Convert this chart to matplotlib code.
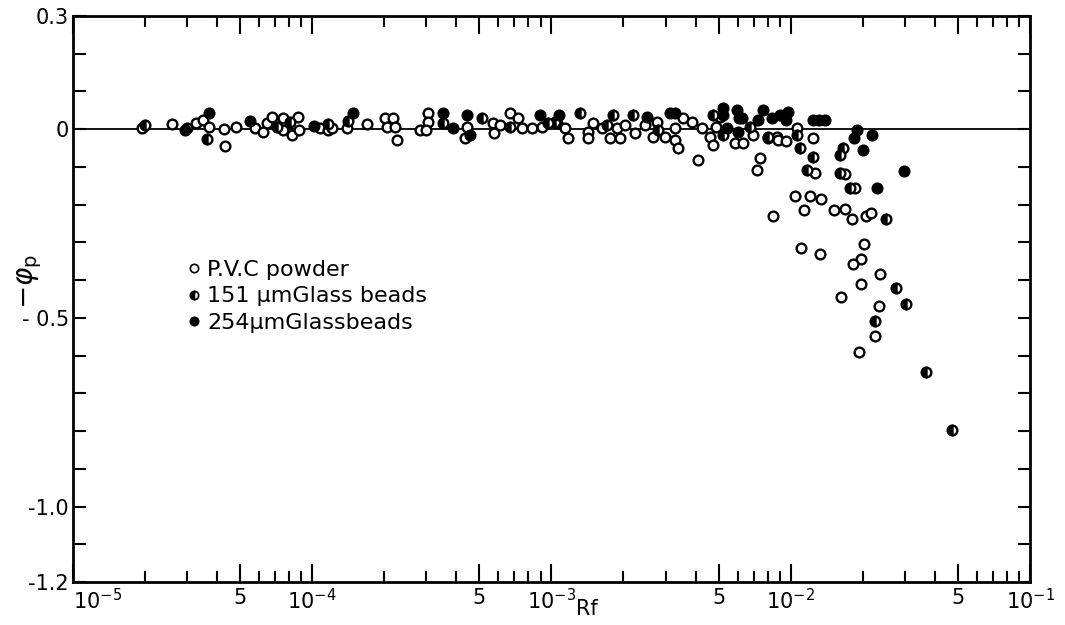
import matplotlib
matplotlib.use("Agg")
import matplotlib.pyplot as plt
from matplotlib.lines import Line2D
from matplotlib.ticker import FixedLocator, NullFormatter

# P.V.C powder (open circles)
pvc_rf = [1.94e-5, 2.59e-5, 3.27e-5, 3.49e-5, 3.70e-5, 4.28e-5, 4.32e-5, 4.80e-5, 5.77e-5, 6.22e-5,
          6.47e-5, 6.79e-5, 7.55e-5, 7.55e-5, 8.23e-5, 8.71e-5, 8.80e-5, 1.08e-4, 1.16e-4, 1.21e-4,
          1.40e-4, 1.69e-4, 2.01e-4, 2.18e-4, 2.05e-4, 2.22e-4, 2.26e-4, 2.82e-4, 3.05e-4, 3.05e-4,
          3.00e-4, 4.43e-4, 4.35e-4, 5.69e-4, 5.77e-4, 6.09e-4, 6.71e-4, 7.24e-4, 7.53e-4, 8.28e-4,
          9.12e-4, 1.05e-3, 1.14e-3, 1.17e-3, 1.42e-3, 1.42e-3, 1.49e-3, 1.63e-3, 1.76e-3, 1.88e-3,
          1.93e-3, 2.03e-3, 2.23e-3, 2.46e-3, 2.66e-3, 2.76e-3, 2.98e-3, 3.28e-3, 3.28e-3, 3.38e-3,
          3.55e-3, 3.87e-3, 4.10e-3, 4.26e-3, 4.60e-3, 4.73e-3, 4.86e-3, 5.06e-3, 5.85e-3, 6.31e-3,
          6.95e-3, 7.43e-3, 7.22e-3, 8.75e-3, 8.04e-3, 8.85e-3, 9.55e-3, 1.06e-2, 1.24e-2, 1.26e-2,
          1.69e-2, 1.85e-2, 1.04e-2, 1.20e-2, 1.34e-2, 8.43e-3, 1.14e-2, 1.52e-2, 1.69e-2, 1.80e-2,
          2.07e-2, 2.17e-2, 1.10e-2, 1.32e-2, 2.02e-2, 1.97e-2, 1.82e-2, 2.36e-2, 1.97e-2, 1.62e-2,
          2.34e-2, 2.25e-2, 1.93e-2]
pvc_phi = [0.004, 0.015, 0.017, 0.025, 0.007, 0.001, -0.044, 0.007, 0.004, -0.007,
           0.017, 0.033, 0.030, -0.001, -0.015, 0.033, -0.001, 0.004, -0.001, 0.004,
           0.004, 0.015, 0.031, 0.031, 0.007, 0.007, -0.028, -0.001, 0.044, 0.020,
           -0.001, 0.007, -0.023, 0.017, -0.009, 0.012, 0.044, 0.031, 0.004, 0.004,
           0.007, 0.017, 0.004, -0.023, -0.007, -0.023, 0.017, 0.004, -0.023, 0.004,
           -0.023, 0.012, -0.009, 0.012, -0.020, 0.020, -0.020, 0.004, -0.028, -0.049,
           0.031, 0.020, -0.081, 0.004, -0.020, -0.041, 0.007, 0.033, -0.036, -0.036,
           -0.015, -0.076, -0.107, -0.020, -0.023, -0.028, -0.031, 0.004, -0.023, -0.115,
           -0.118, -0.155, -0.176, -0.176, -0.184, -0.229, -0.214, -0.214, -0.211, -0.237,
           -0.229, -0.221, -0.314, -0.330, -0.304, -0.343, -0.357, -0.383, -0.410, -0.444,
           -0.468, -0.548, -0.590]

# 151 um glass beads (half-filled circles)
g151_rf = [2.00e-5, 2.99e-5, 3.63e-5, 8.07e-5, 7.13e-5, 1.16e-4, 1.41e-4, 3.52e-4, 5.13e-4, 6.71e-4,
           9.66e-4, 1.03e-3, 1.32e-3, 1.71e-3, 1.81e-3, 2.19e-3, 2.79e-3, 4.73e-3, 5.21e-3, 6.76e-3,
           8.04e-3, 1.06e-2, 1.09e-2, 1.24e-2, 1.17e-2, 1.65e-2, 1.61e-2, 1.61e-2, 1.77e-2, 2.50e-2,
           2.75e-2, 3.03e-2, 2.25e-2, 3.67e-2, 4.72e-2]
g151_phi = [0.010, 0.004, -0.025, 0.020, 0.007, 0.015, 0.023, 0.017, 0.031, 0.007,
            0.017, 0.020, 0.044, 0.012, 0.038, 0.038, -0.001, 0.038, -0.015, 0.007,
            -0.020, -0.015, -0.049, -0.073, -0.107, -0.049, -0.068, -0.115, -0.155, -0.237,
            -0.420, -0.463, -0.508, -0.643, -0.797]

# 254 um glass beads (filled circles)
g254_rf = [2.95e-5, 3.70e-5, 5.50e-5, 1.02e-4, 1.48e-4, 3.52e-4, 3.87e-4, 4.43e-4, 4.56e-4, 8.95e-4,
           1.08e-3, 2.51e-3, 3.13e-3, 3.28e-3, 5.21e-3, 5.20e-3, 5.42e-3, 5.96e-3, 6.00e-3, 6.25e-3,
           6.10e-3, 7.29e-3, 7.66e-3, 8.35e-3, 9.02e-3, 9.75e-3, 9.55e-3, 1.24e-2, 1.31e-2, 1.39e-2,
           1.89e-2, 1.84e-2, 2.19e-2, 2.01e-2, 2.29e-2, 2.97e-2]
g254_phi = [-0.003, 0.044, 0.023, 0.009, 0.044, 0.044, 0.004, 0.038, -0.015, 0.038,
            0.038, 0.033, 0.044, 0.044, 0.057, 0.038, 0.004, 0.052, -0.007, 0.031,
            0.031, 0.025, 0.052, 0.031, 0.038, 0.046, 0.025, 0.025, 0.025, 0.025,
            -0.001, -0.023, -0.015, -0.054, -0.155, -0.110]

labels = ["P.V.C powder", "151 μmGlass beads", "254μmGlassbeads"]

x_major = [1e-5, 5e-5, 1e-4, 5e-4, 1e-3, 5e-3, 1e-2, 5e-2, 1e-1]
x_major_labels = ["$10^{-5}$", "5", "$10^{-4}$", "5", "$10^{-3}$", "5", "$10^{-2}$", "5", "$10^{-1}$"]
y_major = [0.3, 0.0, -0.5, -1.0, -1.2]
y_major_labels = ["0.3", "0", "- 0.5", "-1.0", "-1.2"]

plt.rcParams["mathtext.fontset"] = "dejavusans"

fig = plt.figure(figsize=(10.65, 6.25), dpi=100)
ax = fig.add_axes([0.0685, 0.0688, 0.8986, 0.9056])

ax.axhline(0, color="black", lw=1.3, zorder=1)

mk = dict(linestyle="none", marker="o", markersize=7, markeredgewidth=1.7,
          markeredgecolor="black", zorder=3)
ax.plot(pvc_rf, pvc_phi, markerfacecolor="white", **mk)
ax.plot(g151_rf, g151_phi, markerfacecolor="black", fillstyle="left",
        markerfacecoloralt="white", **mk)
ax.plot(g254_rf, g254_phi, markerfacecolor="black", **mk)

ax.set_xscale("log")
ax.set_xlim(1e-5, 1e-1)
ax.set_ylim(-1.2, 0.3)

ax.xaxis.set_major_locator(FixedLocator(x_major))
ax.set_xticklabels(x_major_labels)
ax.get_xticklabels()[0].set_ha("left")
minors = [m * 10.0 ** e for e in range(-5, -1) for m in (2, 3, 4, 6, 7, 8, 9)]
ax.xaxis.set_minor_locator(FixedLocator(minors))
ax.xaxis.set_minor_formatter(NullFormatter())

ax.set_yticks(y_major)
ax.set_yticklabels(y_major_labels)
ax.yaxis.set_minor_locator(FixedLocator([0.2, 0.1, -0.1, -0.2, -0.3, -0.4, -0.6, -0.7,
                                         -0.8, -0.9, -1.1]))

ax.tick_params(axis="x", which="major", direction="in", top=True, bottom=True,
               length=13, width=1.5, labelsize=15, pad=4)
ax.tick_params(axis="x", which="minor", direction="in", top=True, bottom=True,
               length=8, width=1.5)
ax.tick_params(axis="y", which="both", direction="in", left=True, right=True,
               length=9, width=1.5, labelsize=15, pad=3)

for s in ax.spines.values():
    s.set_linewidth(2)

ax.set_xlabel("Rf", fontsize=15)
ax.xaxis.set_label_coords(0.537, -0.03)
ax.set_ylabel(r"$-\varphi_{\rm p}$", fontsize=20)
ax.yaxis.set_label_coords(-0.03, 0.53)

handles = [
    Line2D([], [], linestyle="none", marker="o", markersize=6, markeredgewidth=1.2,
           markeredgecolor="black", markerfacecolor="white"),
    Line2D([], [], linestyle="none", marker="o", markersize=6, markeredgewidth=1.2,
           markeredgecolor="black", markerfacecolor="black", fillstyle="left",
           markerfacecoloralt="white"),
    Line2D([], [], linestyle="none", marker="o", markersize=6, markeredgewidth=1.2,
           markeredgecolor="black", markerfacecolor="black"),
]
ax.legend(handles, labels, loc="upper left", bbox_to_anchor=(0.11, 0.585),
          frameon=False, fontsize=16, handlelength=0.6, handletextpad=0.3,
          labelspacing=0.3, borderaxespad=0)

fig.savefig("out.png", dpi=100)
